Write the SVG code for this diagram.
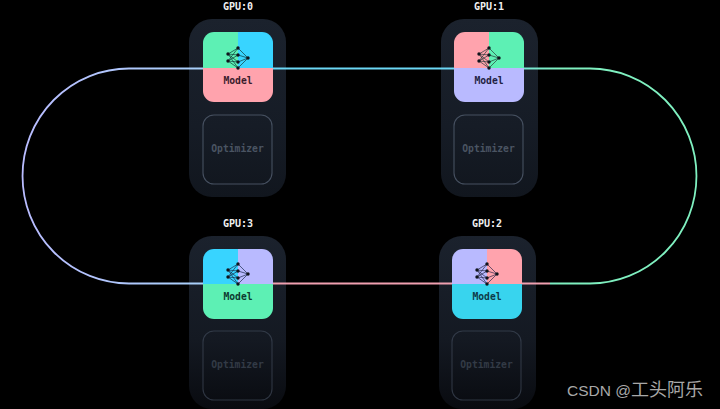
<svg xmlns="http://www.w3.org/2000/svg" width="720" height="409" viewBox="0 0 720 409">
<style>
.card{fill:url(#cardTop)}
.cardb{fill:url(#cardBot)}
.lbl{font:bold 10px "DejaVu Sans Mono",monospace;fill:#f0f0f0;text-anchor:middle}
.mod{font:bold 9.7px "DejaVu Sans Mono",monospace;text-anchor:middle}
.opt{fill:none;stroke:#465060;stroke-width:1.1}
.optt{font:bold 9.7px "DejaVu Sans Mono",monospace;fill:#4a5462;text-anchor:middle}
.w{fill:none;stroke-width:.7}
</style>
<defs>
<linearGradient id="cardTop" x1="0" y1="0" x2="0" y2="1"><stop offset="0" stop-color="#1b222d"/><stop offset=".6" stop-color="#161c26"/><stop offset="1" stop-color="#11161e"/></linearGradient>
<linearGradient id="cardBot" x1="0" y1="0" x2="0" y2="1"><stop offset="0" stop-color="#1b222d"/><stop offset=".6" stop-color="#141922"/><stop offset="1" stop-color="#090b10"/></linearGradient>
<linearGradient id="ringL" x1="22" y1="0" x2="203" y2="0" gradientUnits="userSpaceOnUse"><stop offset="0" stop-color="#b9bcff"/><stop offset="1" stop-color="#a8d0fa"/></linearGradient>
<linearGradient id="ringT" x1="273" y1="0" x2="560" y2="0" gradientUnits="userSpaceOnUse"><stop offset="0" stop-color="#6cd8f5"/><stop offset=".7" stop-color="#6cd8f0"/><stop offset="1" stop-color="#7ff0c0"/></linearGradient>
<g id="net">
<path class="w" d="M-10-4L0-10M-10-4L0-3M-10-4L0 4M-10-4L0 10M-10 3L0-10M-10 3L0-3M-10 3L0 4M-10 3L0 10M0-10L10 0M0-3L10 0M0 4L10 0M0 10L10 0"/>
<g stroke="none" fill="#10141c">
<circle cx="-10" cy="-4" r="1.700"/><circle cx="-10" cy="3" r="1.700"/><circle cx="0" cy="-10" r="1.700"/><circle cx="0" cy="-3" r="1.700"/><circle cx="0" cy="4" r="1.700"/><circle cx="0" cy="10" r="1.700"/><circle cx="10" cy="0" r="1.700"/>
</g>
</g>
<clipPath id="c0"><rect x="203" y="32" width="70" height="70" rx="11"/></clipPath>
<clipPath id="c1"><rect x="454" y="32" width="70" height="70" rx="11"/></clipPath>
<clipPath id="c3"><rect x="203" y="249" width="70" height="70" rx="11"/></clipPath>
<clipPath id="c2"><rect x="452" y="249" width="70" height="70" rx="11"/></clipPath>
</defs>
<rect width="720" height="409" fill="#000"/>
<g id="gpu0">
<text class="lbl" x="238" y="10">GPU:0</text>
<rect class="card" x="189" y="19" width="97" height="178" rx="23"/>
<g clip-path="url(#c0)"><rect x="203" y="32" width="35" height="36" fill="#5df0b4"/><rect x="238" y="32" width="35" height="36" fill="#38d4ff"/><rect x="203" y="68" width="70" height="34" fill="#ffa3ad"/></g>
<use href="#net" x="238" y="58" stroke="#10393a"/>
<text class="mod" x="238" y="84" fill="#3a1c2c">Model</text>
<rect class="opt" x="203" y="115" width="69" height="69" rx="11"/>
<text class="optt" x="237.500" y="152">Optimizer</text>
</g>
<g id="gpu1">
<text class="lbl" x="489" y="10">GPU:1</text>
<rect class="card" x="441" y="19" width="97" height="178" rx="23"/>
<g clip-path="url(#c1)"><rect x="454" y="32" width="35" height="36" fill="#ffa3ad"/><rect x="489" y="32" width="35" height="36" fill="#5df0b4"/><rect x="454" y="68" width="70" height="34" fill="#b9baff"/></g>
<use href="#net" x="489" y="58" stroke="#2a3a3a"/>
<text class="mod" x="489" y="84" fill="#1f1f44">Model</text>
<rect class="opt" x="454" y="115" width="69" height="69" rx="11"/>
<text class="optt" x="488.500" y="152">Optimizer</text>
</g>
<g id="gpu3">
<text class="lbl" x="238" y="227">GPU:3</text>
<rect class="cardb" x="189" y="236" width="97" height="173" rx="23"/>
<g clip-path="url(#c3)"><rect x="203" y="249" width="35" height="35" fill="#38d4ff"/><rect x="238" y="249" width="35" height="35" fill="#b9baff"/><rect x="203" y="284" width="70" height="35" fill="#5df0b4"/></g>
<use href="#net" x="238" y="274" stroke="#1a2c4a"/>
<text class="mod" x="238" y="300" fill="#0e3a30">Model</text>
<rect class="opt" x="203" y="331" width="69" height="69" rx="11" opacity=".6"/>
<text class="optt" x="237.500" y="368" opacity=".6">Optimizer</text>
</g>
<g id="gpu2">
<text class="lbl" x="487" y="227">GPU:2</text>
<rect class="cardb" x="439" y="236" width="97" height="173" rx="23"/>
<g clip-path="url(#c2)"><rect x="452" y="249" width="35" height="35" fill="#b9baff"/><rect x="487" y="249" width="35" height="35" fill="#ffa3ad"/><rect x="452" y="284" width="70" height="35" fill="#38d4ee"/></g>
<use href="#net" x="487" y="274" stroke="#2a2a4a"/>
<text class="mod" x="487" y="300" fill="#0e3a48">Model</text>
<rect class="opt" x="452" y="331" width="69" height="69" rx="11" opacity=".6"/>
<text class="optt" x="486.500" y="368" opacity=".6">Optimizer</text>
</g>
<g id="connectors" fill="none" stroke-width="1.800">
<path d="M203 68.500H129A106.500 107.500 0 0 0 129 283.500H203" stroke="url(#ringL)"/>
<path d="M273 68.500H454" stroke="#6cd8f5"/>
<path d="M524 68.500H590A106.500 107.500 0 0 1 590 283.500H550" stroke="url(#ringT)"/>
<path d="M273 283.500H452M522 283.500H550" stroke="#f0a0b0"/>
</g>
<text x="567" y="396" font-family="'Liberation Sans','Noto Sans CJK SC',sans-serif" font-size="15.500" fill="#a8a8a8">CSDN @<tspan font-size="18">工头阿乐</tspan></text>
</svg>
